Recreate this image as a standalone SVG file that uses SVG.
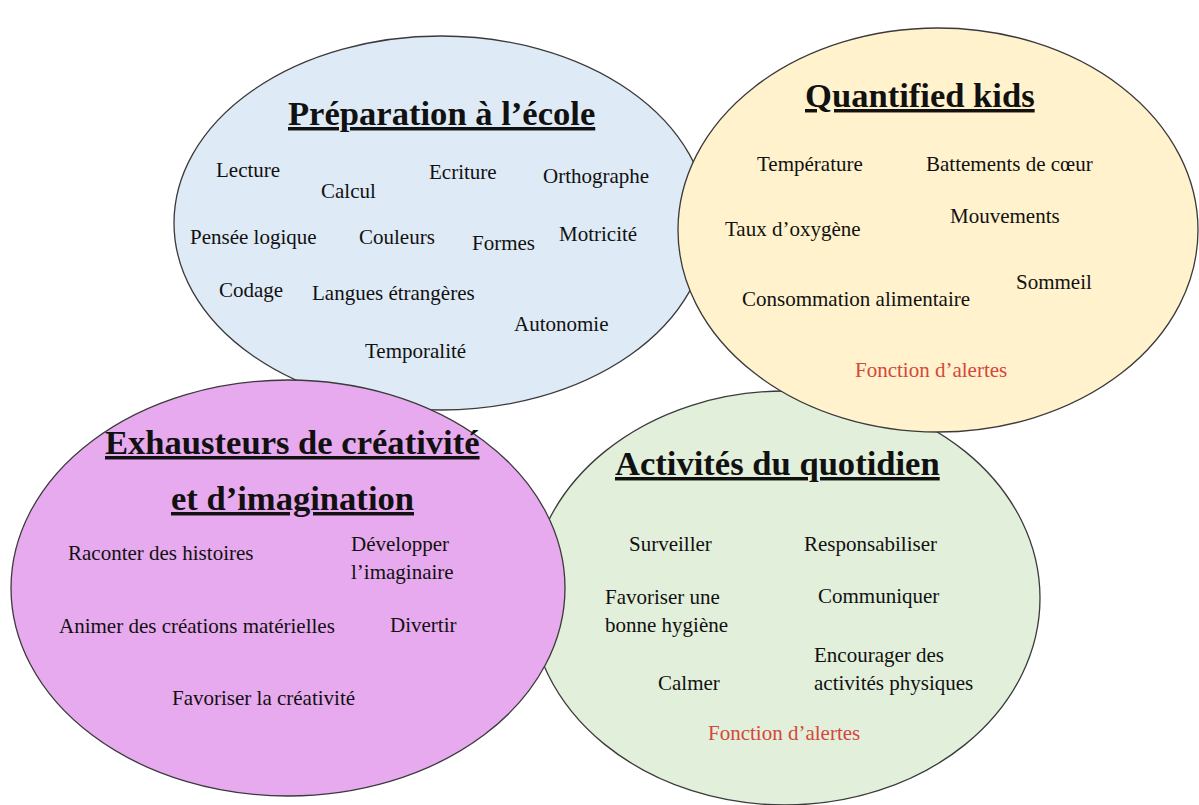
<svg xmlns="http://www.w3.org/2000/svg" width="1199" height="805" viewBox="0 0 1199 805">
<style>
.bubble{stroke:#3a3a3a;stroke-width:1.3}
text{font-family:"Liberation Serif","Times New Roman",serif;fill:#111}
.t{font-size:21px}
.h{font-size:34.6px;font-weight:bold;text-decoration:underline}
.red{fill:#D4473B}
</style>
<rect width="1199" height="805" fill="#ffffff"/>
<g id="preparation">
<ellipse class="bubble" cx="441" cy="223" rx="267" ry="187" fill="#DEEAF6"/>
<text class="h" x="288" y="125">Préparation à l’école</text>
<text class="t" x="216" y="177">Lecture</text>
<text class="t" x="321" y="198">Calcul</text>
<text class="t" x="429" y="179">Ecriture</text>
<text class="t" x="543" y="183">Orthographe</text>
<text class="t" x="190" y="244">Pensée logique</text>
<text class="t" x="359" y="244">Couleurs</text>
<text class="t" x="472" y="250">Formes</text>
<text class="t" x="559" y="241">Motricité</text>
<text class="t" x="219" y="297">Codage</text>
<text class="t" x="312" y="300">Langues étrangères</text>
<text class="t" x="514" y="331">Autonomie</text>
<text class="t" x="365" y="358">Temporalité</text>
</g>
<g id="quotidien">
<ellipse class="bubble" cx="785" cy="598" rx="255" ry="207" fill="#E2EFDA"/>
<text class="h" x="615" y="475">Activités du quotidien</text>
<text class="t" x="629" y="551">Surveiller</text>
<text class="t" x="804" y="551">Responsabiliser</text>
<text class="t" x="605" y="604">Favoriser une</text>
<text class="t" x="605" y="632">bonne hygiène</text>
<text class="t" x="818" y="603">Communiquer</text>
<text class="t" x="814" y="662">Encourager des</text>
<text class="t" x="814" y="690">activités physiques</text>
<text class="t" x="658" y="690">Calmer</text>
<text class="t red" x="708" y="740">Fonction d’alertes</text>
</g>
<g id="quantified">
<ellipse class="bubble" cx="938" cy="230" rx="260" ry="202" fill="#FFF2CC"/>
<text class="h" x="805" y="107">Quantified kids</text>
<text class="t" x="757" y="171">Température</text>
<text class="t" x="926" y="171">Battements de cœur</text>
<text class="t" x="725" y="236">Taux d’oxygène</text>
<text class="t" x="950" y="223">Mouvements</text>
<text class="t" x="1016" y="289">Sommeil</text>
<text class="t" x="742" y="306">Consommation alimentaire</text>
<text class="t red" x="855" y="377">Fonction d’alertes</text>
</g>
<g id="creativite">
<ellipse class="bubble" cx="288" cy="588" rx="277" ry="208" fill="#E8AAEE"/>
<text class="h" x="105" y="454">Exhausteurs de créativité</text>
<text class="h" x="171" y="510">et d’imagination</text>
<text class="t" x="68" y="560">Raconter des histoires</text>
<text class="t" x="351" y="551">Développer</text>
<text class="t" x="351" y="579">l’imaginaire</text>
<text class="t" x="59" y="633">Animer des créations matérielles</text>
<text class="t" x="390" y="632">Divertir</text>
<text class="t" x="172" y="705">Favoriser la créativité</text>
</g>
<g id="connectors"></g>
</svg>
